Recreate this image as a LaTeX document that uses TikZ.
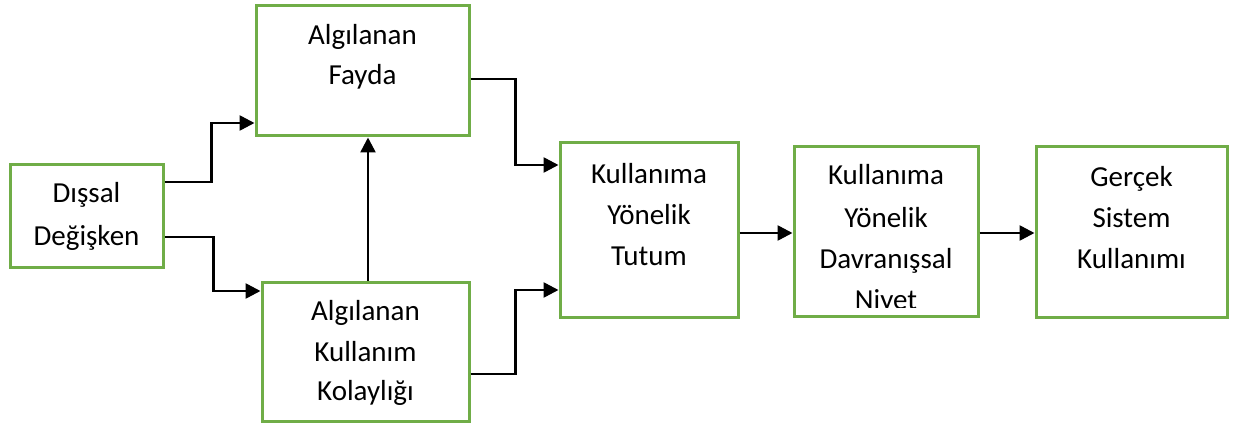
\documentclass[tikz,border=0pt]{standalone}
\usepackage{fontspec}
\setmainfont{Carlito}
\usetikzlibrary{arrows.meta}
\definecolor{boxgreen}{HTML}{70AD47}
\tikzset{
  box/.style={draw=boxgreen, line width=3pt, fill=white, rectangle, inner sep=0pt},
  txt/.style={anchor=base, inner sep=0pt, font=\fontsize{29pt}{35pt}\selectfont},
  arr/.style={draw=black, line width=2.6pt, -{Triangle[length=15pt,width=15pt]}},
}
\begin{document}
\begin{tikzpicture}[x=1pt, y=-1pt]
\useasboundingbox (0,0) rectangle (1235,425);

% boxes (centre, size)
\node[box, minimum width=153pt, minimum height=102pt] (dis) at (86.5,216) {};
\node[box, minimum width=213pt, minimum height=130pt] (fay) at (362.5,71) {};
\node[box, minimum width=207pt, minimum height=139pt] (kol) at (365.5,351.5) {};
\node[box, minimum width=178pt, minimum height=174pt] (tut) at (649,230) {};
\node[box, minimum width=184pt, minimum height=169pt] (niy) at (886,231.5) {};
\node[box, minimum width=191pt, minimum height=170pt] (ger) at (1131.5,232) {};

% labels
\node[txt] (dis1) at (86.5,203) {Dışsal};
\node[txt] (dis2) at (86.5,245) {Değişken};

\node[txt] (fay1) at (362.5,45) {Algılanan};
\node[txt] (fay2) at (362.5,85) {Fayda};

\node[txt] (kol1) at (365.5,320) {Algılanan};
\node[txt] (kol2) at (365.5,361) {Kullanım};
\node[txt] (kol3) at (365.5,400) {Kolaylığı};

\node[txt] (tut1) at (649,183) {Kullanıma};
\node[txt] (tut2) at (649,224) {Yönelik};
\node[txt] (tut3) at (649,265) {Tutum};

\node[txt] (niy1) at (886,185) {Kullanıma};
\node[txt] (niy2) at (886,227) {Yönelik};
\node[txt] (niy3) at (886,268) {Davranışsal};
\begin{scope}
  \clip (800,280) rectangle (975,307);
  \node[txt] (niy4) at (886,309) {Niyet};
\end{scope}

\node[txt] (ger1) at (1131.5,186) {Gerçek};
\node[txt] (ger2) at (1131.5,227) {Sistem};
\node[txt] (ger3) at (1131.5,268) {Kullanımı};

% connectors
\draw[arr] ([yshift=34pt]dis.east) -- ++(47,0) |- ([yshift=-52pt]fay.west);
\draw[arr] ([yshift=-21pt]dis.east) -- ++(49,0) |- ([yshift=60.5pt]kol.west);
\draw[arr] ([xshift=2.5pt]kol.north) -- ([xshift=2.5pt]kol.north |- fay.south);
\draw[arr] ([yshift=-8pt]fay.east) -- ++(45,0) |- ([yshift=65pt]tut.west);
\draw[arr] ([yshift=-22.5pt]kol.east) -- ++(45,0) |- ([yshift=-60pt]tut.west);
\draw[arr] ([yshift=-3pt]tut.east) -- ([yshift=-3pt]tut.east -| niy.west);
\draw[arr] ([yshift=-1.5pt]niy.east) -- ([yshift=-1.5pt]niy.east -| ger.west);
\end{tikzpicture}
\end{document}
